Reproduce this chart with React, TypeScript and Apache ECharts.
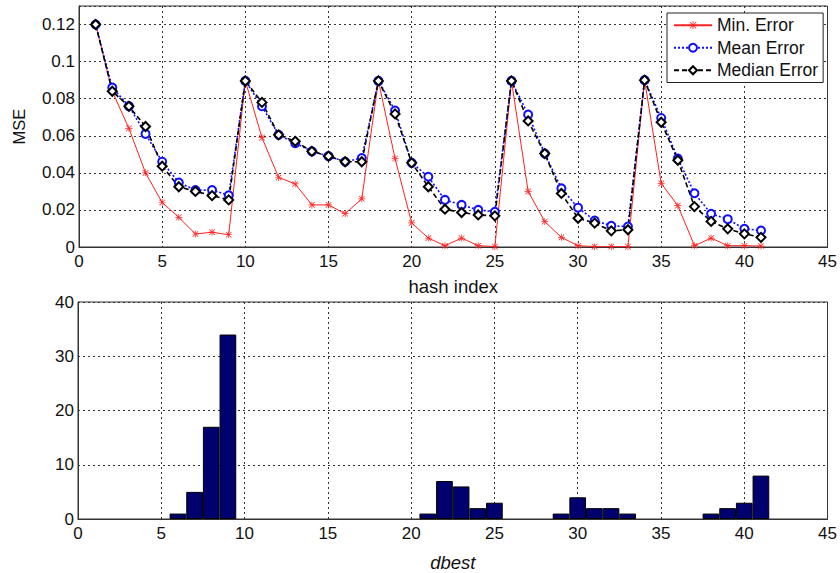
import React, { useEffect, useRef } from "react";
import * as echarts from "echarts";

const hashIndex = [1, 2, 3, 4, 5, 6, 7, 8, 9, 10, 11, 12, 13, 14, 15, 16, 17, 18, 19, 20, 21, 22, 23, 24, 25, 26, 27, 28, 29, 30, 31, 32, 33, 34, 35, 36, 37, 38, 39, 40, 41];
const minError = [0.12, 0.084, 0.064, 0.040, 0.024, 0.016, 0.007, 0.008, 0.0066, 0.0896, 0.059, 0.0375, 0.034, 0.0227, 0.0227, 0.018, 0.026, 0.0896, 0.0477, 0.013, 0.0048, 0.0007, 0.0048, 0.0007, 0.0002, 0.0896, 0.030, 0.0137, 0.0052, 0.0007, 0.0002, 0.0002, 0.0002, 0.09, 0.0343, 0.0223, 0.0007, 0.0048, 0.0007, 0.0007, 0.0005];
const meanError = [0.12, 0.086, 0.076, 0.061, 0.046, 0.0348, 0.0307, 0.0307, 0.0279, 0.0896, 0.0759, 0.0605, 0.056, 0.0516, 0.049, 0.046, 0.048, 0.0896, 0.0736, 0.0454, 0.0379, 0.0254, 0.0227, 0.020, 0.019, 0.0896, 0.0714, 0.0504, 0.0316, 0.0212, 0.0143, 0.0114, 0.011, 0.09, 0.0696, 0.0477, 0.029, 0.0179, 0.015, 0.0098, 0.0089];
const medianError = [0.12, 0.084, 0.0759, 0.065, 0.0436, 0.0325, 0.030, 0.0277, 0.0254, 0.0896, 0.078, 0.0605, 0.057, 0.0516, 0.049, 0.046, 0.046, 0.0896, 0.0718, 0.0454, 0.0325, 0.0204, 0.0186, 0.0173, 0.0168, 0.0896, 0.068, 0.0504, 0.0289, 0.0155, 0.0129, 0.0087, 0.0093, 0.09, 0.0673, 0.0468, 0.0218, 0.0138, 0.0098, 0.0071, 0.0052];

const dbestBins = [6, 7, 8, 9, 21, 22, 23, 24, 25, 29, 30, 31, 32, 33, 38, 39, 40, 41];
const dbestCounts = [1, 5, 17, 34, 1, 7, 6, 2, 3, 1, 4, 2, 2, 1, 1, 2, 3, 8];

const seriesNames = ["Min. Error", "Mean Error", "Median Error"];

const asterisk =
  "path://M9,0 L11,0 L11,20 L9,20 Z M0,9 L20,9 L20,11 L0,11 Z M1.3,2.7 L2.7,1.3 L18.7,17.3 L17.3,18.7 Z M18.7,2.7 L17.3,1.3 L1.3,17.3 L2.7,18.7 Z";

export default function App() {
  const ref = useRef<HTMLDivElement>(null);
  useEffect(() => {
    if (!ref.current) return;
    const chart = echarts.init(ref.current, null, { renderer: "svg" });
    const font = "Liberation Sans";
    const split = { show: true, lineStyle: { color: "#333", type: [2, 3] as any, width: 1 } };
    const axisLine = { show: true, lineStyle: { color: "#333", width: 1 } };
    const label = { color: "#111", fontSize: 17, fontFamily: font };
    chart.setOption({
      animation: false,
      backgroundColor: "#fff",
      textStyle: { fontFamily: font },
      grid: [
        { left: 79, top: 6, width: 749, height: 241, show: true, borderColor: "#333", borderWidth: 1, backgroundColor: "transparent" },
        { left: 78, top: 302, width: 752, height: 218, show: true, borderColor: "#333", borderWidth: 1, backgroundColor: "transparent" },
      ],
      legend: {
        left: 667,
        top: 13,
        orient: "vertical",
        data: seriesNames,
        backgroundColor: "#fff",
        borderColor: "#222",
        borderWidth: 1,
        padding: [3, 5, 3, 6],
        itemGap: 4,
        itemWidth: 38,
        itemHeight: 10,
        textStyle: { fontSize: 17.5, color: "#111", fontFamily: font, lineHeight: 18.5 },
      },
      xAxis: [
        {
          type: "value", gridIndex: 0, min: 0, max: 45, interval: 5,
          axisLine, axisTick: { show: false }, splitLine: split,
          axisLabel: { ...label, margin: 6 },
          name: "hash index", nameLocation: "middle", nameGap: 30,
          nameTextStyle: { fontSize: 18.5, color: "#111", fontFamily: font },
        },
        {
          type: "value", gridIndex: 1, min: 0, max: 45, interval: 5,
          axisLine, axisTick: { show: false }, splitLine: split,
          axisLabel: { ...label, margin: 6 },
          name: "dbest", nameLocation: "middle", nameGap: 34,
          nameTextStyle: { fontSize: 18.5, color: "#111", fontFamily: font, fontStyle: "italic" },
        },
      ],
      yAxis: [
        {
          type: "value", gridIndex: 0, min: 0, max: 0.13, interval: 0.02,
          axisLine, axisTick: { show: false }, splitLine: split,
          axisLabel: {
            ...label, margin: 4,
            formatter: (v: number) => (v > 0.125 ? "" : String(parseFloat(v.toFixed(3)))),
          },
          name: "MSE", nameLocation: "middle", nameGap: 52,
          nameTextStyle: { fontSize: 16.5, color: "#111", fontFamily: font },
        },
        {
          type: "value", gridIndex: 1, min: 0, max: 40, interval: 10,
          axisLine, axisTick: { show: false }, splitLine: split,
          axisLabel: { ...label, margin: 4 },
        },
      ],
      series: [
        {
          name: seriesNames[0], type: "line", xAxisIndex: 0, yAxisIndex: 0,
          data: hashIndex.map((x, i) => [x, minError[i]]),
          symbol: asterisk, symbolSize: 7,
          lineStyle: { color: "#ff2020", width: 1 },
          itemStyle: { color: "#ff2020" },
        },
        {
          name: seriesNames[1], type: "line", xAxisIndex: 0, yAxisIndex: 0,
          data: hashIndex.map((x, i) => [x, meanError[i]]),
          symbol: "emptyCircle", symbolSize: 8,
          lineStyle: { color: "#1010ff", width: 1.6, type: [2, 2] },
          itemStyle: { color: "#1010ff", borderWidth: 1.6 },
        },
        {
          name: seriesNames[2], type: "line", xAxisIndex: 0, yAxisIndex: 0,
          data: hashIndex.map((x, i) => [x, medianError[i]]),
          symbol: "emptyDiamond", symbolSize: 9,
          lineStyle: { color: "#000", width: 1.6, type: [5, 3] },
          itemStyle: { color: "#000", borderWidth: 1.4 },
        },
        {
          name: "dbest", type: "bar", xAxisIndex: 1, yAxisIndex: 1,
          data: dbestBins.map((x, i) => [x, dbestCounts[i]]),
          barWidth: 16.7,
          itemStyle: { color: "#00006e", borderColor: "#000", borderWidth: 1 },
        },
      ],
    });
    return () => chart.dispose();
  }, []);
  return <div ref={ref} style={{ position: "absolute", left: 0, top: 0, width: 840, height: 573 }} />;
}
